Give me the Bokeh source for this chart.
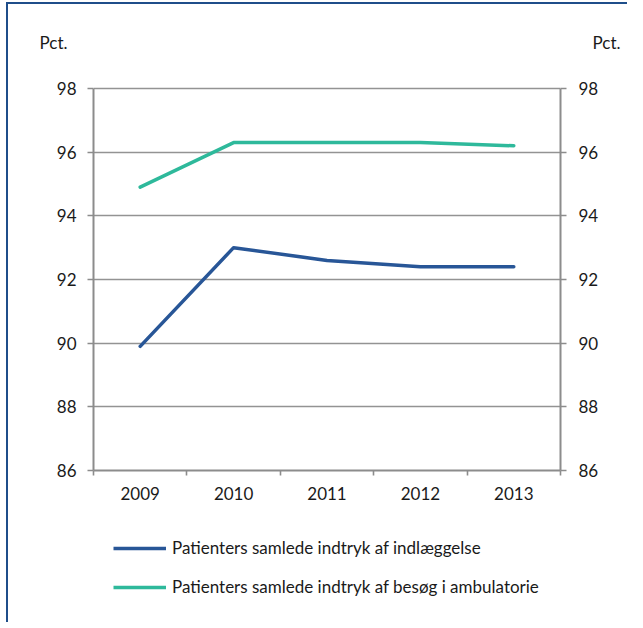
from bokeh.plotting import figure
from bokeh.layouts import column
from bokeh.models import (FixedTicker, Legend, LegendItem, LinearAxis, Range1d)
from bokeh.embed import file_html
from bokeh.resources import INLINE

years = [2009, 2010, 2011, 2012, 2013]
year_labels = ["2009", "2010", "2011", "2012", "2013"]
indlaeggelse = [89.9, 93.0, 92.6, 92.4, 92.4]
ambulatorie = [94.9, 96.3, 96.3, 96.3, 96.2]
y_ticks = [86, 88, 90, 92, 94, 96, 98]
unit_label = "Pct."
series_names = ["Patienters samlede indtryk af indlæggelse",
                "Patienters samlede indtryk af besøg i ambulatorie"]

FONT = "Lato"
FS = "17px"
TXT = "#1a1a1a"
DARK = "#285697"
TEAL = "#2EB99B"
GRID = "#939393"
AXIS = "#8C8C8C"
BORDER = "#1F4E8A"

# layout (canvas pixels)
W = 627
H1, H2 = 510, 112
FL, FR, FT, FB = 93, 560, 28, 470        # frame edges of the chart
PX_PER_UNIT = (470 - 88) / (y_ticks[-1] - y_ticks[0])
y_top = y_ticks[0] + (FB - FT) / PX_PER_UNIT
pct_y = y_ticks[0] + (FB - 41.5) / PX_PER_UNIT

p = figure(width=W, height=H1, output_backend="svg", toolbar_location=None,
           x_range=Range1d(years[0] - 0.5, years[-1] + 0.5),
           y_range=Range1d(y_ticks[0], y_top),
           min_border_left=FL, min_border_right=W - FR,
           min_border_top=FT, min_border_bottom=H1 - FB)
p.border_fill_color = None
p.styles = {"box-shadow": f"inset 6px 2px 0 0 #ffffff, inset 8px 4px 0 0 {BORDER}"}
p.outline_line_color = None
p.xgrid.grid_line_color = None
p.ygrid.ticker = FixedTicker(ticks=y_ticks)
p.ygrid.grid_line_color = GRID
p.ygrid.grid_line_width = 1.6

minor = [years[0] - 0.5] + [y + 0.5 for y in years]
xa = p.xaxis[0]
xa.ticker = FixedTicker(ticks=years, minor_ticks=minor)
xa.major_label_overrides = {y: l for y, l in zip(years, year_labels)}
xa.major_tick_line_color = None
xa.major_tick_out = 0
xa.minor_tick_out = 5
xa.minor_tick_in = 0
xa.minor_tick_line_color = AXIS
xa.minor_tick_line_width = 1.6
xa.axis_line_color = AXIS
xa.axis_line_width = 2
xa.major_label_standoff = 11
xa.major_label_text_font = FONT
xa.major_label_text_font_size = FS
xa.major_label_text_color = TXT

ra = LinearAxis()
p.add_layout(ra, "right")
for ax, so in ((p.yaxis[0], 11), (ra, 12)):
    ax.ticker = FixedTicker(ticks=y_ticks)
    ax.bounds = (y_ticks[0], y_ticks[-1])
    ax.major_tick_out = 6
    ax.major_tick_in = 0
    ax.minor_tick_line_color = None
    ax.major_tick_line_color = AXIS
    ax.major_tick_line_width = 1.6
    ax.axis_line_color = AXIS
    ax.axis_line_width = 2
    ax.major_label_standoff = so
    ax.major_label_text_font = FONT
    ax.major_label_text_font_size = FS
    ax.major_label_text_color = TXT

# "Pct." headers as outer axes carrying one labelled tick
for side, so in (("left", -14), ("right", -9)):
    pa = LinearAxis(ticker=FixedTicker(ticks=[pct_y]),
                    major_label_overrides={pct_y: unit_label},
                    axis_line_color=None, major_tick_line_color=None,
                    minor_tick_line_color=None, major_tick_out=0, major_tick_in=0,
                    major_label_standoff=so, major_label_text_font=FONT,
                    major_label_text_font_size=FS, major_label_text_color=TXT)
    p.add_layout(pa, side)

p.line(years, indlaeggelse, line_color=DARK, line_width=3.5, line_cap="round", line_join="round")
p.line(years, ambulatorie, line_color=TEAL, line_width=3.5, line_cap="round", line_join="round")

# legend panel below the chart (its frame lines up with the chart's frame;
# its own ranges keep the series out of view so only the legend keys show)
q = figure(width=W, height=H2, output_backend="svg", toolbar_location=None,
           x_range=Range1d(0, 1), y_range=Range1d(0, 1),
           x_axis_location=None, y_axis_location=None,
           min_border_left=FL, min_border_right=W - FR, min_border_top=0, min_border_bottom=0)
q.border_fill_color = None
q.background_fill_color = None
q.outline_line_color = None
q.grid.grid_line_color = None
q.styles = {"box-shadow": f"inset 6px 0 0 0 #ffffff, inset 8px 0 0 0 {BORDER}"}
k1 = q.line(years, indlaeggelse, line_color=DARK, line_width=3.5)
k2 = q.line(years, ambulatorie, line_color=TEAL, line_width=3.5)

legend = Legend(items=[LegendItem(label=series_names[0], renderers=[k1]),
                       LegendItem(label=series_names[1], renderers=[k2])],
                location=(113 - FL, H2 - 87), orientation="vertical",
                glyph_width=53, glyph_height=20, label_height=20,
                spacing=18, padding=0, margin=0, label_standoff=6,
                border_line_color=None, background_fill_alpha=0,
                label_text_font=FONT, label_text_font_size=FS,
                label_text_color=TXT)
q.add_layout(legend, "center")

layout = column(p, q, spacing=0)
open("out.html", "w").write(file_html(layout, INLINE))
